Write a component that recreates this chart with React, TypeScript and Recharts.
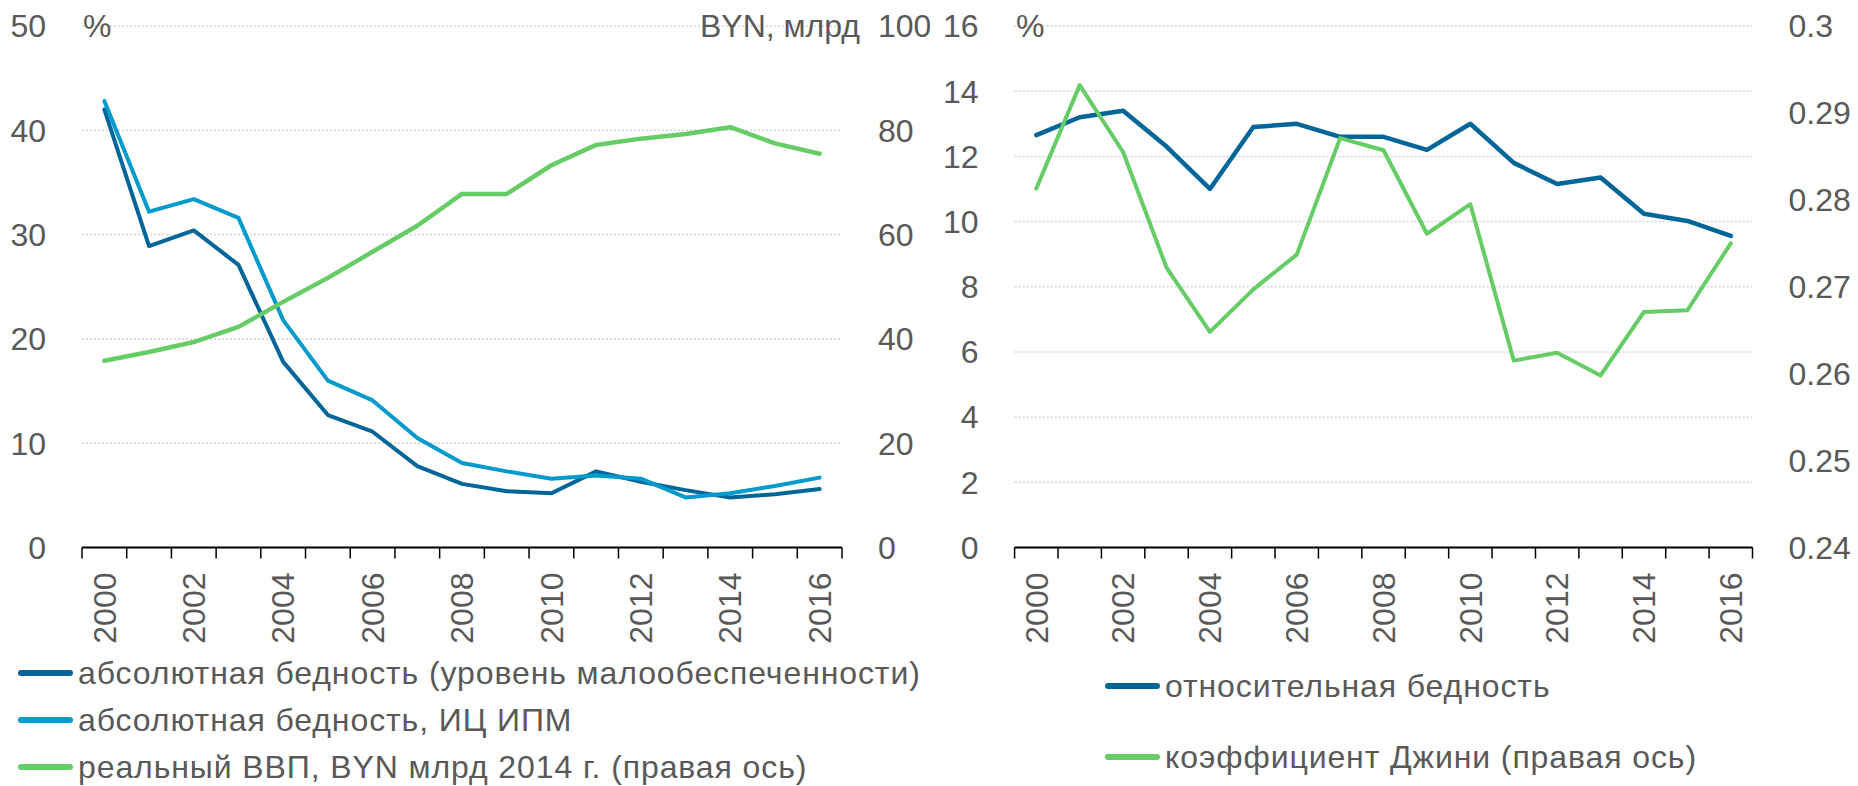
import React from "react";
import { LineChart, Line, XAxis, YAxis, CartesianGrid } from "recharts";

// years on the category axis
const years = [
  "2000", "2001", "2002", "2003", "2004", "2005", "2006", "2007", "2008",
  "2009", "2010", "2011", "2012", "2013", "2014", "2015", "2016",
];

// left panel, %
const absPoverty = [42.0, 28.9, 30.4, 27.1, 17.8, 12.7, 11.1, 7.8, 6.1, 5.4, 5.2, 7.3, 6.3, 5.5, 4.8, 5.1, 5.6];
const absPovertyIpm = [42.8, 32.2, 33.4, 31.6, 21.8, 16.0, 14.1, 10.5, 8.1, 7.3, 6.6, 6.9, 6.6, 4.8, 5.2, 5.9, 6.7];
// left panel, BYN bn (right axis)
const realGdp = [35.8, 37.5, 39.4, 42.3, 47.1, 51.7, 56.7, 61.7, 67.8, 67.8, 73.3, 77.2, 78.4, 79.3, 80.6, 77.5, 75.5];

// right panel
const relPoverty = [12.65, 13.2, 13.4, 12.3, 11.0, 12.9, 13.0, 12.6, 12.6, 12.2, 13.0, 11.8, 11.15, 11.35, 10.24, 10.02, 9.56];
const gini = [0.2813, 0.2932, 0.2855, 0.2722, 0.2648, 0.2697, 0.2737, 0.2871, 0.2857, 0.2761, 0.2795, 0.2615, 0.2624, 0.2598, 0.2671, 0.2673, 0.275];

const pctTicksLeft = [0, 10, 20, 30, 40, 50];
const gdpTicks = [0, 20, 40, 60, 80, 100];
const pctTicksRight = [0, 2, 4, 6, 8, 10, 12, 14, 16];
const giniTicks = [0.24, 0.25, 0.26, 0.27, 0.28, 0.29, 0.3];

const leftData = years.map((year, i) => ({
  year,
  abs: absPoverty[i],
  ipm: absPovertyIpm[i],
  gdp: realGdp[i],
}));

const rightData = years.map((year, i) => ({
  year,
  rel: relPoverty[i],
  gini: gini[i],
}));

const FONT = '"Liberation Sans", Arial, sans-serif';
const TEXT = "#595959";
const DARK_BLUE = "#00669a";
const LIGHT_BLUE = "#009acd";
const GREEN = "#66cc66";

const H = 786;
const PLOT_TOP = 26;
const PLOT_BOTTOM = 547.5;

// left panel geometry
const L_W = 930;
const L_AXIS_L = 82;
const L_AXIS_R = 88;
const L_HALF = (L_W - L_AXIS_L - L_AXIS_R) / years.length / 2;

// right panel geometry
const R_X = 930;
const R_W = 928;
const R_AXIS_L = 84.6;
const R_AXIS_R = 105.5;
const R_HALF = (R_W - R_AXIS_L - R_AXIS_R) / years.length / 2;

const tickStyle = { fill: TEXT, fontSize: 32, fontFamily: FONT };

const YearTick = (props: any) => {
  const { x, y, payload, index, half } = props;
  const last = index === years.length - 1;
  return (
    <g>
      <line x1={x - half} y1={y} x2={x - half} y2={y + 11} stroke="#000" strokeWidth={1.5} />
      {last && <line x1={x + half} y1={y} x2={x + half} y2={y + 11} stroke="#000" strokeWidth={1.5} />}
      {index % 2 === 0 && (
        <text
          transform={`translate(${x},${y + 25}) rotate(-90)`}
          textAnchor="end"
          dy="0.35em"
          fill={TEXT}
          fontSize={32}
          fontFamily={FONT}
        >
          {payload.value}
        </text>
      )}
    </g>
  );
};

const LegendRow = ({ x, y, color, label }: { x: number; y: number; color: string; label: string }) => (
  <div
    style={{
      position: "absolute",
      left: x,
      top: y - 16,
      height: 32,
      display: "flex",
      alignItems: "center",
      whiteSpace: "nowrap",
    }}
  >
    <div style={{ width: 55, height: 6, borderRadius: 3, background: color, marginRight: 5 }} />
    <span style={{ fontSize: 32, lineHeight: "32px", color: TEXT, fontFamily: FONT, letterSpacing: 0.9 }}>{label}</span>
  </div>
);

const Caption = ({ x, y, text, right }: { x: number; y: number; text: string; right?: boolean }) => (
  <div
    style={{
      position: "absolute",
      top: y - 16,
      ...(right ? { right: 1858 - x } : { left: x }),
      fontSize: 32,
      lineHeight: "32px",
      color: TEXT,
      fontFamily: FONT,
      whiteSpace: "nowrap",
    }}
  >
    {text}
  </div>
);

export default function App() {
  return (
    <div style={{ position: "absolute", left: 0, top: 0, width: 1858, height: H, background: "#fff" }}>
      <div style={{ position: "absolute", left: 0, top: 0 }}>
        <LineChart width={L_W} height={H} data={leftData} margin={{ top: PLOT_TOP, right: 0, bottom: 0, left: 0 }}>
          <CartesianGrid yAxisId="pct" vertical={false} stroke="#d4d4d4" strokeDasharray="2 2" strokeWidth={1.5} />
          <XAxis
            dataKey="year"
            height={H - PLOT_BOTTOM}
            interval={0}
            padding={{ left: L_HALF, right: L_HALF }}
            tickSize={0}
            tickMargin={0}
            tickLine={false}
            axisLine={{ stroke: "#000", strokeWidth: 2 }}
            tick={(p: any) => <YearTick {...p} half={L_HALF} />}
          />
          <YAxis
            yAxisId="pct"
            width={L_AXIS_L}
            domain={[0, 50]}
            ticks={pctTicksLeft}
            axisLine={false}
            tickLine={false}
            tickSize={0}
            tickMargin={36}
            tick={tickStyle}
          />
          <YAxis
            yAxisId="gdp"
            orientation="right"
            width={L_AXIS_R}
            domain={[0, 100]}
            ticks={gdpTicks}
            axisLine={false}
            tickLine={false}
            tickSize={0}
            tickMargin={36}
            tick={tickStyle}
          />
          <Line yAxisId="pct" dataKey="abs" stroke={DARK_BLUE} strokeWidth={4} dot={false} isAnimationActive={false} strokeLinecap="round" strokeLinejoin="round" />
          <Line yAxisId="pct" dataKey="ipm" stroke={LIGHT_BLUE} strokeWidth={4} dot={false} isAnimationActive={false} strokeLinecap="round" strokeLinejoin="round" />
          <Line yAxisId="gdp" dataKey="gdp" stroke={GREEN} strokeWidth={4.5} dot={false} isAnimationActive={false} strokeLinecap="round" strokeLinejoin="round" />
        </LineChart>
      </div>

      <div style={{ position: "absolute", left: R_X, top: 0 }}>
        <LineChart width={R_W} height={H} data={rightData} margin={{ top: PLOT_TOP, right: 0, bottom: 0, left: 0 }}>
          <CartesianGrid yAxisId="pct" vertical={false} stroke="#d4d4d4" strokeDasharray="2 2" strokeWidth={1.5} />
          <XAxis
            dataKey="year"
            height={H - PLOT_BOTTOM}
            interval={0}
            padding={{ left: R_HALF, right: R_HALF }}
            tickSize={0}
            tickMargin={0}
            tickLine={false}
            axisLine={{ stroke: "#000", strokeWidth: 2 }}
            tick={(p: any) => <YearTick {...p} half={R_HALF} />}
          />
          <YAxis
            yAxisId="pct"
            width={R_AXIS_L}
            domain={[0, 16]}
            ticks={pctTicksRight}
            axisLine={false}
            tickLine={false}
            tickSize={0}
            tickMargin={36}
            tick={tickStyle}
          />
          <YAxis
            yAxisId="gini"
            orientation="right"
            width={R_AXIS_R}
            domain={[0.24, 0.3]}
            ticks={giniTicks}
            axisLine={false}
            tickLine={false}
            tickSize={0}
            tickMargin={36}
            tick={tickStyle}
          />
          <Line yAxisId="pct" dataKey="rel" stroke={DARK_BLUE} strokeWidth={4.5} dot={false} isAnimationActive={false} strokeLinecap="round" strokeLinejoin="round" />
          <Line yAxisId="gini" dataKey="gini" stroke={GREEN} strokeWidth={4} dot={false} isAnimationActive={false} strokeLinecap="round" strokeLinejoin="round" />
        </LineChart>
      </div>

      <Caption x={83} y={26} text="%" />
      <Caption x={860} y={26} text="BYN, млрд" right />
      <Caption x={1016} y={26} text="%" />

      <LegendRow x={18} y={673} color={DARK_BLUE} label="абсолютная бедность (уровень малообеспеченности)" />
      <LegendRow x={18} y={720} color={LIGHT_BLUE} label="абсолютная бедность, ИЦ ИПМ" />
      <LegendRow x={18} y={767} color={GREEN} label="реальный ВВП, BYN млрд 2014 г. (правая ось)" />
      <LegendRow x={1105} y={686} color={DARK_BLUE} label="относительная бедность" />
      <LegendRow x={1105} y={757} color={GREEN} label="коэффициент Джини (правая ось)" />
    </div>
  );
}
